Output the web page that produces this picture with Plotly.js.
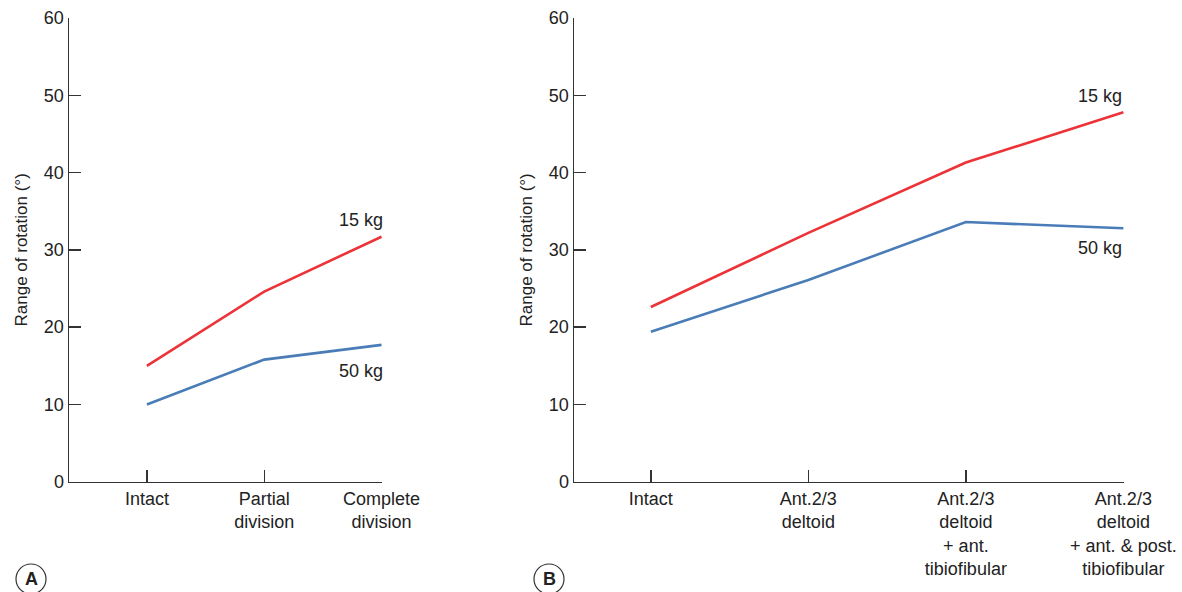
<!DOCTYPE html>
<html>
<head>
<meta charset="utf-8">
<script src="https://cdn.plot.ly/plotly-3.0.1.min.js"></script>
<style>html,body{margin:0;padding:0;background:#fff;}#chart{width:1182px;height:592px;}</style>
</head>
<body>
<div id="chart"></div>
<script>
// Panel A
const catsA = ["Intact", "Partial<br>division", "Complete<br>division"];
const a15kg = [15.0, 24.6, 31.7];
const a50kg = [10.0, 15.8, 17.7];
// Panel B
const catsB = ["Intact", "Ant.2/3<br>deltoid", "Ant.2/3<br>deltoid<br>+ ant.<br>tibiofibular", "Ant.2/3<br>deltoid<br>+ ant. & post.<br>tibiofibular"];
const b15kg = [22.6, 32.2, 41.3, 47.8];
const b50kg = [19.4, 26.1, 33.6, 32.8];
const yTicks = [0, 10, 20, 30, 40, 50, 60];
const seriesNames = ["15 kg", "50 kg"];
const panelLabels = ["A", "B"];

const RED = "#ec3338", BLUE = "#4a7db8";
const FONT = "Liberation Sans, Arial, sans-serif";
const idxA = catsA.map((_, i) => i), idxB = catsB.map((_, i) => i);

const traces = [
  {x: idxA, y: a15kg, xaxis: "x", yaxis: "y", mode: "lines", line: {color: RED, width: 2.6}, name: seriesNames[0]},
  {x: idxA, y: a50kg, xaxis: "x", yaxis: "y", mode: "lines", line: {color: BLUE, width: 2.6}, name: seriesNames[1]},
  {x: idxB, y: b15kg, xaxis: "x2", yaxis: "y2", mode: "lines", line: {color: RED, width: 2.6}, name: seriesNames[0]},
  {x: idxB, y: b50kg, xaxis: "x2", yaxis: "y2", mode: "lines", line: {color: BLUE, width: 2.6}, name: seriesNames[1]}
];

const axFont = {family: FONT, size: 18, color: "#222"};
function xax(n, cats, lo, dom, anchor) {
  return {domain: dom, range: [lo, n - 1 + 0.004], tickmode: "array", tickvals: cats.map((_, i) => i), ticktext: cats,
    ticks: "inside", ticklen: 12, tickwidth: 1.3, tickcolor: "#333", showline: true, linecolor: "#333", linewidth: 1.5,
    showgrid: false, zeroline: false, tickfont: axFont, anchor: anchor, fixedrange: true};
}
function yax(dom, anchor) {
  return {domain: dom, range: [0, 60], tickmode: "array", tickvals: yTicks, ticks: "inside", ticklen: 12, tickwidth: 1.3,
    tickcolor: "#333", showline: true, linecolor: "#333", linewidth: 1.5, showgrid: false, zeroline: false,
    tickfont: axFont, anchor: anchor, title: {text: "Range of rotation (°)", font: {family: FONT, size: 17, color: "#222"}, standoff: 12}};
}
const yd = [(592 - 481.7) / 592, (592 - 18) / 592];
const layout = {
  width: 1182, height: 592, margin: {l: 0, r: 0, t: 0, b: 0}, showlegend: false,
  paper_bgcolor: "#fff", plot_bgcolor: "#fff",
  xaxis: xax(3, catsA, -0.664, [69 / 1182, 382 / 1182], "y"),
  yaxis: yax(yd, "x"),
  xaxis2: xax(4, catsB, -0.488, [574 / 1182, 1124 / 1182], "y2"),
  yaxis2: yax(yd, "x2"),
  annotations: [
    {xref: "x", yref: "y", x: 2, y: a15kg[2], text: seriesNames[0], showarrow: false, xanchor: "right", yanchor: "middle", yshift: 17, xshift: 3, font: axFont},
    {xref: "x", yref: "y", x: 2, y: a50kg[2], text: seriesNames[1], showarrow: false, xanchor: "right", yanchor: "middle", yshift: -26, xshift: 3, font: axFont},
    {xref: "x2", yref: "y2", x: 3, y: b15kg[3], text: seriesNames[0], showarrow: false, xanchor: "right", yanchor: "middle", yshift: 16, xshift: 1, font: axFont},
    {xref: "x2", yref: "y2", x: 3, y: b50kg[3], text: seriesNames[1], showarrow: false, xanchor: "right", yanchor: "middle", yshift: -20, xshift: 1, font: axFont},
    {xref: "paper", yref: "paper", x: 31 / 1182, y: (592 - 579) / 592, text: "<b>" + panelLabels[0] + "</b>", showarrow: false, xanchor: "center", yanchor: "middle", font: {family: FONT, size: 18, color: "#222"}},
    {xref: "paper", yref: "paper", x: 549 / 1182, y: (592 - 579) / 592, text: "<b>" + panelLabels[1] + "</b>", showarrow: false, xanchor: "center", yanchor: "middle", font: {family: FONT, size: 18, color: "#222"}}
  ],
  shapes: [
    {type: "circle", xref: "paper", yref: "paper", x0: 16 / 1182, x1: 46 / 1182, y0: (592 - 594) / 592, y1: (592 - 564) / 592, line: {color: "#333", width: 1.2}},
    {type: "circle", xref: "paper", yref: "paper", x0: 534 / 1182, x1: 564 / 1182, y0: (592 - 594) / 592, y1: (592 - 564) / 592, line: {color: "#333", width: 1.2}}
  ]
};
Plotly.newPlot("chart", traces, layout, {displayModeBar: false, staticPlot: true});
</script>
</body>
</html>
